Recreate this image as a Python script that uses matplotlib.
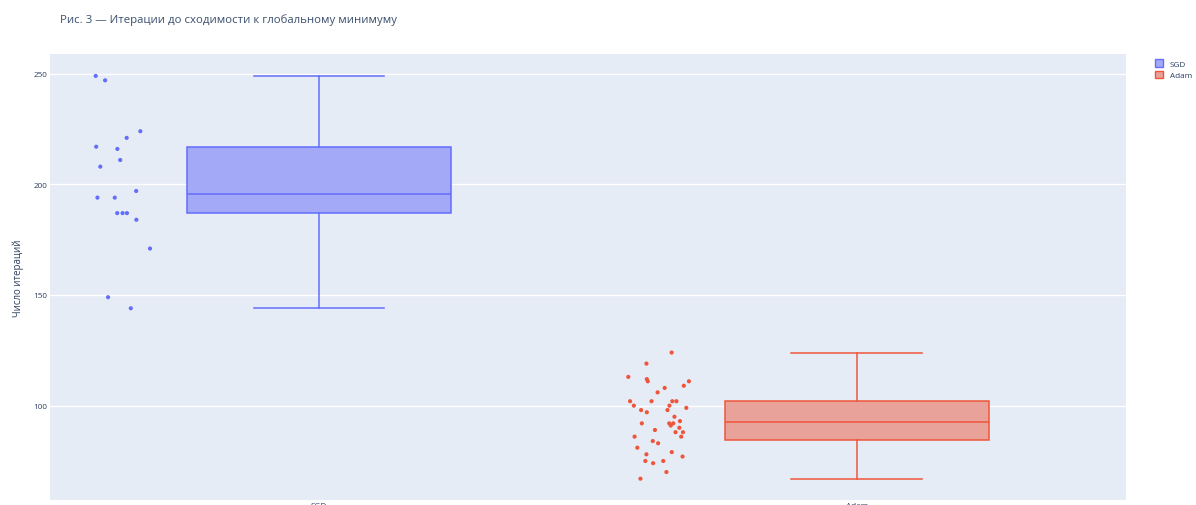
import matplotlib
matplotlib.use('Agg')

import matplotlib.pyplot as plt
import numpy as np
from matplotlib.patches import Patch

# data
methods = ["SGD", "Adam"]
sgd_iters = [249, 247, 224, 221, 217, 216, 211, 208, 197, 194, 194, 187, 187, 187, 184, 171, 149, 144]
adam_iters = [124, 119, 113, 111, 112, 111, 109, 108, 106, 102, 102, 102, 102, 100, 100, 99, 98, 98,
              97, 95, 92, 92, 93, 92, 91, 90, 89, 88, 88, 86, 86, 84, 83, 81, 79, 78, 77, 75, 75, 74, 70, 67]
colors = ["#636EFA", "#EF553B"]
fills = ["#A3A9F7", "#E9A299"]

title = "Рис. 3 — Итерации до сходимости к глобальному минимуму"
ylabel = "Число итераций"

plt.rcParams['font.family'] = ['Open Sans', 'DejaVu Sans']

fig = plt.figure(figsize=(11.96, 5.06), dpi=100)
ax = fig.add_axes([50 / 1196, 1 - 500.7 / 506, 1075.7 / 1196, 445.7 / 506])
ax.set_facecolor("#E5ECF6")

rng = np.random.default_rng(3)
for i, (vals, c, f) in enumerate(zip([sgd_iters, adam_iters], colors, fills)):
    bp = ax.boxplot([vals], positions=[i], widths=0.49, whis=(0, 100), showfliers=False,
                    patch_artist=True, capwidths=[0.243])
    for b in bp['boxes']:
        b.set_facecolor(f)
        b.set_edgecolor(c)
        b.set_linewidth(1.1)
    for key in ['whiskers', 'caps', 'medians']:
        for ln in bp[key]:
            ln.set_color(c)
            ln.set_linewidth(1.1)
    # jittered points to the left of the box (like plotly boxpoints='all')
    xs = i - 0.367 + rng.uniform(-0.058, 0.058, len(vals))
    ax.scatter(xs, vals, s=9, color=c, edgecolors='none', zorder=3)

ax.set_xlim(-0.5, 1.5)
ax.set_ylim(57.5, 258.9)
ax.set_xticks([0, 1])
ax.set_xticklabels(methods)
ax.set_yticks([100, 150, 200, 250])
ax.tick_params(axis='both', length=0, labelsize=5.9, colors="#2a3f5f", pad=2)
ax.grid(axis='y', color='white', linewidth=1)
ax.set_axisbelow(True)
for s in ax.spines.values():
    s.set_visible(False)
ax.set_ylabel(ylabel, fontsize=6.9, color="#2a3f5f", labelpad=7)

fig.text(60 / 1196, 1 - 20 / 506, title, fontsize=8.2, color="#3a4f6f", va='center')

handles = [Patch(facecolor=f, edgecolor=c, linewidth=1) for c, f in zip(colors, fills)]
leg = fig.legend(handles, methods, loc='upper left', bbox_to_anchor=(1152 / 1196, 1 - 57 / 506),
                 frameon=False, fontsize=5.9, handlelength=1.0, handleheight=1.0,
                 handletextpad=0.8, labelspacing=0.35, borderaxespad=0)
for t in leg.get_texts():
    t.set_color("#2a3f5f")

fig.savefig("out.png", dpi=100)
